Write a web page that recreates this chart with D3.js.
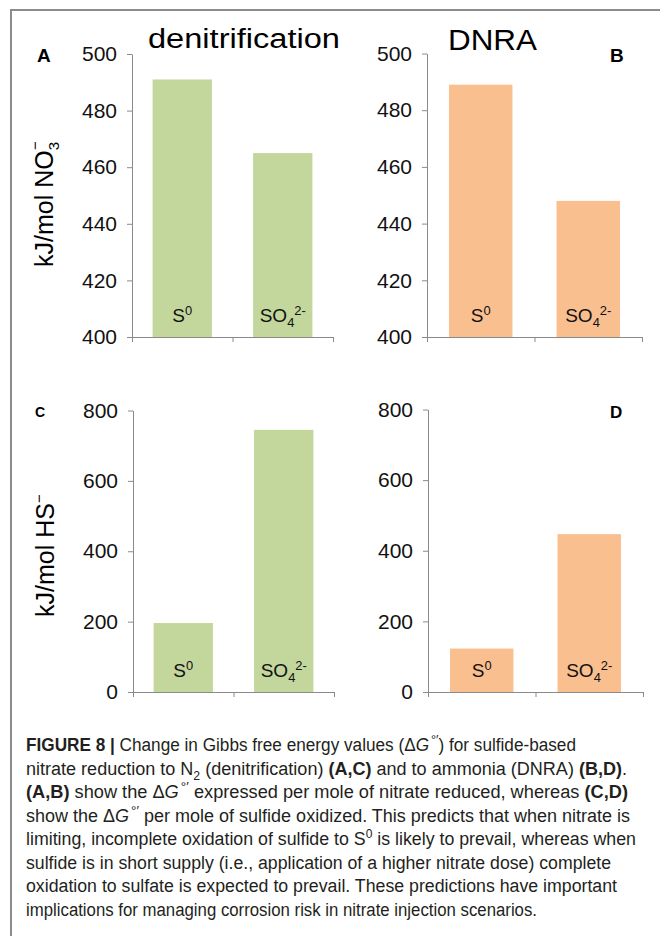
<!DOCTYPE html>
<html>
<head>
<meta charset="utf-8">
<script src="https://cdn.jsdelivr.net/npm/d3@7"></script>
<style>
  body { margin: 0; background: #fff; }
  svg { display: block; }
</style>
</head>
<body>
<svg id="fig" width="660" height="936"></svg>
<script>
// ---- data ----
const categories = ["S0", "SO4"];
const denitPerNitrate = [491, 465];   // kJ/mol NO3-, denitrification
const dnraPerNitrate = [489, 448];    // kJ/mol NO3-, DNRA
const denitPerSulfide = [196, 745];   // kJ/mol HS-, denitrification
const dnraPerSulfide = [123, 447];    // kJ/mol HS-, DNRA
const nitrateTicks = [400, 420, 440, 460, 480, 500];
const sulfideTicks = [0, 200, 400, 600, 800];
const columnTitles = ["denitrification", "DNRA"];

// rich-text pieces for category labels
const categoryLabel = {
  "S0": [["S"], ["0", "sup"]],
  "SO4": [["SO"], ["4", "sub"], ["2-", "sup"]]
};

const svg = d3.select("#fig");
const FONT = "'Liberation Sans', Arial, Helvetica, sans-serif";
const AXIS = "#8a8a8a";
const GREEN = "#c3d69b";
const ORANGE = "#f9bf8f";

// frame around the figure (top and left edges)
svg.append("path")
  .attr("d", "M11,936 V10 H660")
  .attr("fill", "none")
  .attr("stroke", "#8c8c8c")
  .attr("stroke-width", 2);

// append text runs with sub/superscripts, bold and italic;
// "psup" is a superscript that follows an italic letter and gets a small gap
function rich(sel, segs, size) {
  let shift = 0;
  segs.forEach(([t, kind]) => {
    const isSup = kind === "sup" || kind === "psup";
    const target = isSup ? -0.38 * size : kind === "sub" ? 0.28 * size : 0;
    const ts = sel.append("tspan").text(t);
    if (target - shift !== 0) ts.attr("dy", target - shift);
    shift = target;
    if (isSup || kind === "sub") ts.attr("font-size", 0.68 * size);
    if (kind === "psup") ts.attr("dx", 2).attr("font-size", 0.75 * size);
    if (kind === "b") ts.attr("font-weight", "bold");
    if (kind === "i") ts.attr("font-style", "italic");
  });
}

// ---- panels ----
const panels = [
  { letter: "A", lx: 37, ly: 62, lsize: 19, values: denitPerNitrate, ticks: nitrateTicks,
    color: GREEN, x0: 132, x1: 333, yTop: 54, yBot: 337 },
  { letter: "B", lx: 610, ly: 62, lsize: 19, values: dnraPerNitrate, ticks: nitrateTicks,
    color: ORANGE, x0: 427, x1: 642, yTop: 53.5, yBot: 337 },
  { letter: "C", lx: 35, ly: 416.5, lsize: 14, values: denitPerSulfide, ticks: sulfideTicks,
    color: GREEN, x0: 133, x1: 334, yTop: 410.5, yBot: 692 },
  { letter: "D", lx: 610, ly: 417.5, lsize: 17, values: dnraPerSulfide, ticks: sulfideTicks,
    color: ORANGE, x0: 428, x1: 643, yTop: 409.5, yBot: 692 }
];

panels.forEach(p => {
  const g = svg.append("g");
  const y = d3.scaleLinear()
    .domain([p.ticks[0], p.ticks[p.ticks.length - 1]])
    .range([p.yBot, p.yTop]);
  const x = d3.scaleBand()
    .domain(categories)
    .range([p.x0, p.x1])
    .paddingInner(0.41)
    .paddingOuter(0.205);

  // bars
  g.selectAll("rect.bar")
    .data(categories)
    .join("rect")
    .attr("class", "bar")
    .attr("x", d => x(d))
    .attr("width", x.bandwidth())
    .attr("y", (d, i) => y(p.values[i]))
    .attr("height", (d, i) => y.range()[0] - y(p.values[i]))
    .attr("fill", p.color);

  // y axis
  const ya = g.append("g")
    .attr("transform", `translate(${p.x0},0)`)
    .call(d3.axisLeft(y).tickValues(p.ticks).tickSize(5).tickSizeOuter(0).tickPadding(10));
  ya.select(".domain").attr("stroke", AXIS);
  ya.selectAll(".tick line").attr("stroke", AXIS);
  ya.selectAll(".tick text")
    .attr("fill", "#111")
    .attr("font-family", FONT)
    .attr("font-size", 21);

  // x axis with ticks on category boundaries
  const xb = d3.scaleLinear().domain([0, categories.length]).range([p.x0, p.x1]);
  const xa = g.append("g")
    .attr("transform", `translate(0,${p.yBot})`)
    .call(d3.axisBottom(xb).tickValues(d3.range(categories.length + 1))
      .tickFormat("").tickSize(5).tickSizeOuter(0));
  xa.select(".domain").attr("stroke", AXIS);
  xa.selectAll(".tick line").attr("stroke", AXIS);

  // category labels inside bars
  categories.forEach(c => {
    const t = g.append("text")
      .attr("x", x(c) + x.bandwidth() / 2)
      .attr("y", p.yBot - 15)
      .attr("text-anchor", "middle")
      .attr("font-family", FONT)
      .attr("font-size", 19)
      .attr("fill", "#111");
    rich(t, categoryLabel[c], 19);
  });

  // panel letter
  svg.append("text")
    .attr("x", p.lx).attr("y", p.ly)
    .attr("font-family", FONT)
    .attr("font-weight", "bold")
    .attr("font-size", p.lsize)
    .attr("fill", "#000")
    .text(p.letter);
});

// column titles
svg.append("text")
  .attr("x", 148).attr("y", 48)
  .attr("font-family", FONT).attr("font-size", 27)
  .attr("textLength", 192).attr("lengthAdjust", "spacingAndGlyphs")
  .attr("fill", "#000")
  .text(columnTitles[0]);
svg.append("text")
  .attr("x", 448).attr("y", 50)
  .attr("font-family", FONT).attr("font-size", 30)
  .attr("textLength", 89).attr("lengthAdjust", "spacingAndGlyphs")
  .attr("fill", "#000")
  .text(columnTitles[1]);

// y-axis titles
const yl1 = svg.append("text")
  .attr("transform", "translate(53,267) rotate(-90)")
  .attr("text-anchor", "start")
  .attr("font-family", FONT).attr("font-size", 25).attr("fill", "#000");
yl1.append("tspan").text("kJ/mol NO");
yl1.append("tspan").text("3").attr("font-size", 15).attr("dy", 6);
yl1.append("tspan").text("\u2212").attr("font-size", 15).attr("dx", -8).attr("dy", -19);

const yl2 = svg.append("text")
  .attr("transform", "translate(54,617) rotate(-90)")
  .attr("text-anchor", "start")
  .attr("font-family", FONT).attr("font-size", 25).attr("fill", "#000");
yl2.append("tspan").text("kJ/mol HS");
yl2.append("tspan").text("\u2212").attr("font-size", 15).attr("dy", -10);

// ---- caption ----
const captionLines = [
  [["FIGURE 8 | ", "b"], ["Change in Gibbs free energy values (\u0394"], ["G", "i"], ["\u00b0\u2032", "psup"], [") for sulfide-based"]],
  [["nitrate reduction to N"], ["2", "sub"], [" (denitrification) "], ["(A,C)", "b"], [" and to ammonia (DNRA) "], ["(B,D)", "b"], ["."]],
  [["(A,B)", "b"], [" show the \u0394"], ["G", "i"], ["\u00b0\u2032", "psup"], [" expressed per mole of nitrate reduced, whereas "], ["(C,D)", "b"]],
  [["show the \u0394"], ["G", "i"], ["\u00b0\u2032", "psup"], [" per mole of sulfide oxidized. This predicts that when nitrate is"]],
  [["limiting, incomplete oxidation of sulfide to S"], ["0", "sup"], [" is likely to prevail, whereas when"]],
  [["sulfide is in short supply (i.e., application of a higher nitrate dose) complete"]],
  [["oxidation to sulfate is expected to prevail. These predictions have important"]],
  [["implications for managing corrosion risk in nitrate injection scenarios."]]
];
const captionWidths = [550, 601, 602, 604, 610, 585, 591, 511];

captionLines.forEach((segs, i) => {
  const t = svg.append("text")
    .attr("x", 26)
    .attr("y", 751 + i * 23.5)
    .attr("font-family", "'Liberation Sans Narrow', 'Arial Narrow', " + FONT)
    .attr("font-size", 18)
    .attr("fill", "#231f20")
    .attr("textLength", captionWidths[i])
    .attr("lengthAdjust", "spacingAndGlyphs");
  rich(t, segs, 18);
});
</script>
</body>
</html>
